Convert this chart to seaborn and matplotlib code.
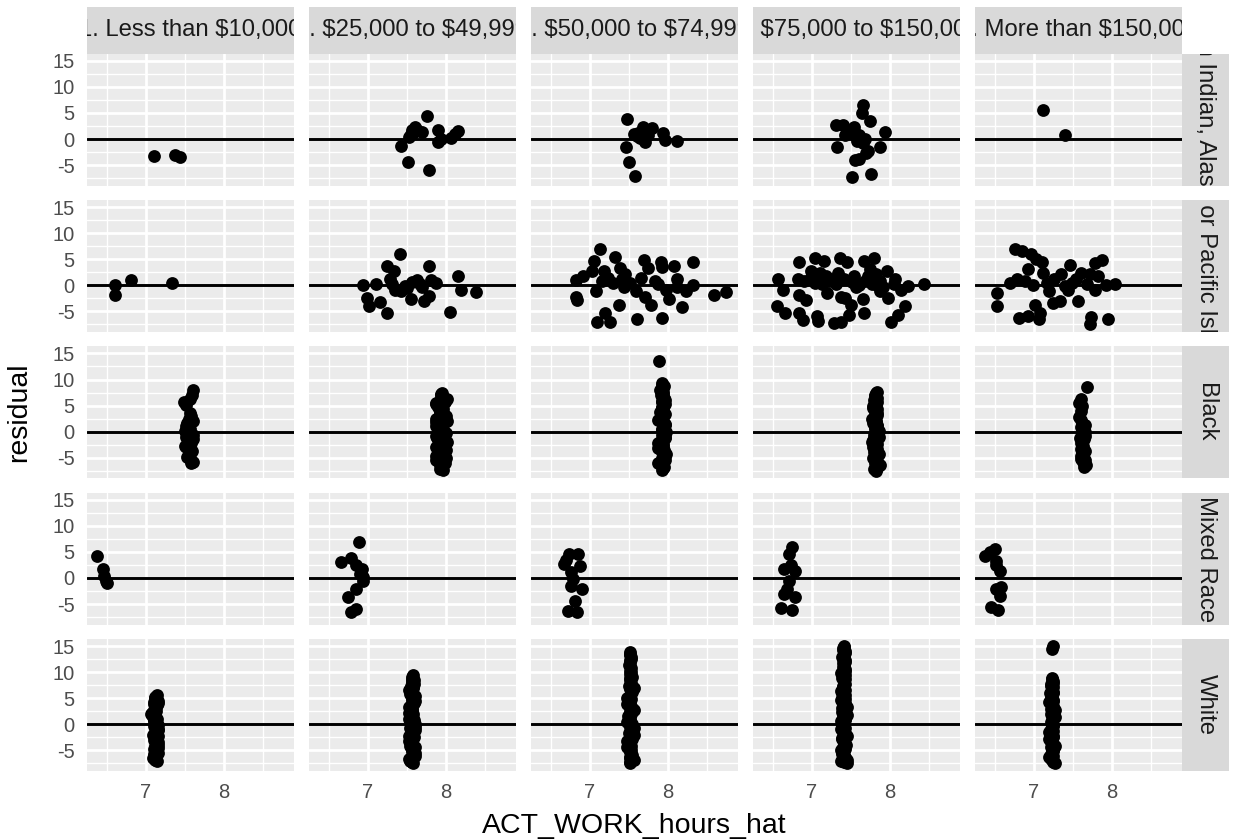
import matplotlib
matplotlib.use("Agg")
import matplotlib.pyplot as plt
import pandas as pd
import seaborn as sns

# ---------------- facet levels ----------------
races = ["American Indian, Alaska Native", "Asian or Pacific Islander",
         "Black", "Mixed Race", "White"]
incomes = ["1. Less than $10,000", "3. $25,000 to $49,999",
           "4. $50,000 to $74,999", "5. $75,000 to $150,000",
           "6. More than $150,000"]

x_ticks = [7, 8]
y_ticks = [-5, 0, 5, 10, 15]

# ---------------- data ----------------
# American Indian, Alaska Native
ai_1_x = [7.11, 7.37, 7.44]
ai_1_r = [-3.2, -3.1, -3.5]
ai_3_x = [7.42, 7.51, 7.53, 7.55, 7.56, 7.60, 7.63, 7.69, 7.76, 7.78, 7.90, 7.90, 7.94, 8.07, 8.12, 8.16, 7.58]
ai_3_r = [-1.4, -4.5, 0.4, 0.9, 1.8, 2.4, 1.7, 1.3, 4.5, -5.9, 1.8, -0.5, 0.1, 0.2, 1.0, 1.5, 1.2]
ai_4_x = [7.48, 7.46, 7.50, 7.58, 7.56, 7.62, 7.68, 7.71, 7.74, 7.80, 7.94, 7.96, 8.12, 7.64, 7.60]
ai_4_r = [3.9, -1.6, -4.4, -7.1, 0.9, 1.1, 2.3, -0.5, 0.8, 2.2, 1.2, -0.2, -0.3, 0.2, 0.5]
ai_5_x = [7.31, 7.40, 7.32, 7.43, 7.54, 7.55, 7.51, 7.65, 7.64, 7.74, 7.60, 7.68, 7.70, 7.76, 7.87, 7.94, 7.48, 7.58, 7.65, 7.61, 7.72]
ai_5_r = [2.7, 2.6, -1.6, 0.8, 2.4, -4.1, -7.2, 6.6, 5.0, 3.4, 0.8, 0.1, -2.7, -6.7, -1.5, 1.4, 1.1, -0.4, -0.8, -3.8, -2.2]
ai_6_x = [7.12, 7.40]
ai_6_r = [5.5, 0.8]

# Asian or Pacific Islander
as_1_x = [6.60, 6.60, 6.81, 7.34]
as_1_r = [0.0, -1.9, 1.0, 0.5]
as_3_x = [6.94, 6.99, 7.01, 7.11, 7.15, 7.24, 7.25, 7.28, 7.33, 7.35, 7.41, 7.42, 7.47, 7.55, 7.56,
          7.63, 7.67, 7.72, 7.78, 7.79, 7.81, 7.88, 8.05, 8.16, 8.19, 8.39, 7.31, 7.50, 7.70]
as_3_r = [0.0, -2.4, -4.0, 0.2, -3.2, 3.8, -5.3, 1.3, 2.8, -0.8, 6.0, -1.0, -0.1, -2.7, 0.7,
          1.0, 0.2, -3.0, 3.7, -2.1, 1.0, 0.5, -5.1, 1.8, -0.8, -1.2, 0.3, -0.6, -0.4]
as_4_x = [6.82, 6.82, 6.83, 6.91, 7.05, 7.03, 7.13, 7.08, 7.09, 7.20, 7.26, 7.18, 7.16, 7.32, 7.37,
          7.39, 7.41, 7.44, 7.23, 7.30, 7.45, 7.52, 7.59, 7.61, 7.70, 7.75, 7.71, 7.78, 7.84, 7.88,
          7.91, 7.92, 7.92, 8.01, 8.08, 8.12, 8.12, 8.18, 8.23, 8.32, 8.32, 8.59, 8.75, 7.65, 7.98]
as_4_r = [1.0, -2.2, -2.8, 1.8, 4.7, 2.8, 6.9, -1.1, -7.0, -5.3, -7.0, 2.8, 0.8, 5.4, -3.7,
          3.4, 1.2, -0.4, 1.5, 0.5, 2.1, 0.5, -1.1, -6.5, 4.9, 3.4, -2.2, -3.7, 0.8, 0.2,
          4.4, -6.3, 3.5, -2.7, 3.7, 1.2, -0.4, -4.2, -1.0, 4.4, 0.0, -1.9, -1.2, 1.5, -0.8]
as_5_x = [6.56, 6.63, 6.55, 6.66, 6.83, 6.82, 6.84, 6.92, 6.83, 6.88, 6.90, 7.04, 7.06, 7.08, 7.11,
          7.15, 7.18, 7.20, 6.99, 6.97, 7.27, 7.29, 7.36, 7.37, 7.38, 7.45, 7.47, 7.50, 7.43, 7.34,
          7.54, 7.57, 7.65, 7.67, 7.67, 7.75, 7.80, 7.82, 7.87, 7.87, 7.96, 7.98, 8.01, 8.07, 8.10,
          8.14, 8.19, 8.23, 8.44, 7.68, 7.31, 7.13, 7.41, 7.77, 7.91, 7.72, 8.05, 7.04, 7.22, 7.52,
          7.60, 7.84]
as_5_r = [1.3, -0.9, -4.0, -5.3, 4.4, 1.3, -1.9, -2.9, -5.4, -6.7, 0.8, 5.3, -5.9, -6.9, 2.4,
          4.7, 1.8, -1.4, 2.8, 1.2, 1.2, -7.2, 5.3, -2.2, -7.0, 4.4, -5.6, -3.7, -2.4, 2.4,
          1.8, -0.4, -2.7, 4.6, -5.3, 3.1, 5.3, 2.1, 0.8, -1.1, 2.8, -2.4, -7.1, 1.2, -5.6,
          -0.8, -4.0, -0.1, 0.2, 0.8, 0.2, 0.2, 1.2, 0.2, -0.4, 1.8, 0.2, 0.5, 0.8, 0.7,
          0.1, 0.0]
as_6_x = [6.53, 6.53, 6.69, 6.76, 6.79, 6.85, 6.81, 6.93, 6.96, 6.92, 6.99, 7.01, 7.03, 7.10, 7.08,
          7.06, 7.12, 7.19, 7.24, 7.33, 7.26, 7.35, 7.46, 7.44, 7.56, 7.61, 7.68, 7.72, 7.73, 7.72,
          7.79, 7.82, 7.78, 7.87, 7.95, 7.93, 8.04, 7.49, 7.40, 7.17, 6.89, 7.54]
as_6_r = [-1.4, -4.0, 0.5, 6.9, 1.3, 6.6, -6.2, -5.9, 6.0, 3.1, 0.0, -3.7, 5.0, 4.4, -5.3,
          -6.5, 2.4, -1.1, -3.3, -3.0, 1.2, 2.1, 3.9, -0.8, -3.0, 2.4, 0.2, 2.1, -6.1, -7.4,
          -0.9, 1.8, 4.2, 4.8, -6.4, 0.0, 0.2, 0.5, -0.1, 0.5, 0.8, 1.2]

# Black
bl_1_x = [7.61, 7.59, 7.57, 7.49, 7.52, 7.56, 7.58, 7.55, 7.53, 7.51, 7.57, 7.54, 7.60, 7.52,
          7.56, 7.58, 7.50, 7.55, 7.59, 7.57, 7.53, 7.56, 7.60, 7.58, 7.50, 7.60, 7.61, 7.52]
bl_1_r = [8.0, 7.1, 6.2, 5.6, 5.1, 3.6, 3.0, 2.4, 1.7, 1.0, 0.5, -0.2, -0.6, -1.1,
          -1.7, -2.2, -2.8, -3.3, -3.7, -4.3, -4.8, -5.3, -5.8, -6.1, 0.1, 2.0, -1.4, -3.0]
bl_3_x = [7.95, 7.94, 7.96, 7.92, 7.88, 7.94, 7.96, 7.93, 7.97, 7.95, 7.92, 7.96, 7.94, 7.97,
          7.93, 7.95, 7.98, 7.94, 7.96, 7.93, 7.97, 7.95, 7.92, 7.96, 7.94, 7.97, 7.93, 7.95,
          7.96, 7.87, 7.88, 7.87, 7.99, 8.00, 8.00, 7.99, 7.99, 7.90, 7.89, 8.00,
          7.94, 7.95, 7.93, 7.95, 7.94, 7.92, 7.95, 7.93, 7.94, 7.95, 7.93, 7.94, 7.95, 7.93,
          7.94, 7.95, 7.93, 7.87, 7.87, 7.87, 7.88, 7.87, 8.01, 8.01, 8.01, 8.00]
bl_3_r = [7.5, 7.0, 6.4, 5.9, 5.5, 5.0, 4.4, 3.9, 3.3, 2.8, 2.2, 1.7, 1.2, 0.6,
          0.1, -0.5, -1.0, -1.6, -2.1, -2.7, -3.2, -3.8, -4.3, -4.7, -5.3, -5.8, -6.4, -6.9,
          -7.3, 1.9, 1.0, -4.6, 5.6, 3.0, -0.2, -2.4, -6.1, 4.7, -1.3, -3.5,
          7.2, 6.7, 6.1, 5.2, 4.1, 3.6, 2.5, 1.4, 0.3, -0.8, -1.9, -3.0, -4.1, -5.0,
          -5.6, -6.7, -7.1, 5.3, 2.4, -0.8, -3.0, -5.5, 6.2, 2.0, -2.0, -5.0]
bl_4_x = [7.89, 7.93, 7.95, 7.92, 7.94, 7.91, 7.95, 7.93, 7.96, 7.92, 7.94, 7.90, 7.95, 7.93,
          7.91, 7.96, 7.94, 7.92, 7.95, 7.93, 7.96, 7.91, 7.94, 7.92, 7.95, 7.93, 7.96, 7.92,
          7.94, 7.91, 7.95, 7.93, 7.88, 7.98, 7.88, 7.98, 7.88, 7.97, 7.97, 7.88, 7.97, 7.97,
          7.96, 7.90,
          7.93, 7.94, 7.93, 7.94, 7.92, 7.94, 7.93, 7.94, 7.92, 7.94, 7.93, 7.94, 7.92, 7.94,
          7.93, 7.94, 7.92, 7.94, 7.93, 7.94]
bl_4_r = [13.5, 9.3, 8.8, 8.2, 7.6, 7.0, 6.5, 5.9, 5.3, 4.8, 4.2, 3.7, 3.1, 2.6,
          2.0, 1.5, 0.9, 0.4, -0.2, -0.7, -1.3, -1.8, -2.4, -2.9, -3.5, -4.0, -4.6, -5.1,
          -5.7, -6.2, -6.8, -7.3, 2.3, 0.0, -2.1, -4.3, -6.0, 1.2, -1.0, -3.2, -5.4, 3.4,
          6.1, 8.0,
          9.0, 8.5, 7.9, 7.3, 6.8, 6.2, 5.6, 5.0, 4.5, 3.9, 2.9, 1.8, 0.6, -0.5,
          -1.6, -2.7, -3.7, -4.8, -5.9, -7.0]
bl_5_x = [7.83, 7.81, 7.84, 7.80, 7.82, 7.79, 7.83, 7.81, 7.84, 7.80, 7.82, 7.79, 7.83, 7.81,
          7.84, 7.80, 7.82, 7.79, 7.83, 7.81, 7.84, 7.80, 7.82, 7.79, 7.83, 7.81, 7.84, 7.80,
          7.82, 7.86, 7.77, 7.86, 7.87, 7.77, 7.78, 7.86, 7.78,
          7.82, 7.81, 7.82, 7.83, 7.81, 7.82, 7.83, 7.81, 7.82, 7.83, 7.81, 7.82, 7.83, 7.81,
          7.82, 7.83, 7.81, 7.82, 7.83]
bl_5_r = [7.6, 7.1, 6.5, 6.0, 5.4, 4.9, 4.3, 3.8, 3.2, 2.7, 2.1, 1.6, 1.0, 0.5,
          -0.1, -0.6, -1.2, -1.7, -2.3, -2.8, -3.4, -3.9, -4.5, -5.0, -5.6, -6.1, -6.7, -7.1,
          -7.5, 0.2, -2.0, -4.2, -6.4, 2.4, 4.6, -1.0, -3.0,
          7.4, 6.8, 6.2, 5.7, 5.1, 4.0, 3.5, 2.9, 1.9, 1.3, 0.8, -0.3, -1.4, -2.5,
          -3.6, -4.7, -5.3, -5.9, -6.9]
bl_6_x = [7.68, 7.60, 7.58, 7.62, 7.60, 7.58, 7.61, 7.63, 7.60, 7.64, 7.62, 7.66, 7.64, 7.61,
          7.63, 7.60, 7.62, 7.61, 7.60, 7.63, 7.67, 7.64, 7.66, 7.59, 7.65, 7.66, 7.66]
bl_6_r = [8.5, 6.3, 5.5, 4.9, 3.9, 2.8, 2.2, 1.5, 0.9, 0.3, -0.3, -0.9, -1.5, -2.1,
          -2.8, -3.4, -4.0, -4.7, -5.3, -5.9, -6.4, -6.8, 1.2, -1.2, -3.7, -5.5, 0.0]

# Mixed Race
mx_1_x = [6.37, 6.45, 6.46, 6.49, 6.50]
mx_1_r = [4.3, 1.7, 0.4, -0.5, -1.0]
mx_3_x = [6.88, 6.65, 6.79, 6.85, 6.93, 6.90, 6.94, 6.85, 6.74, 6.85, 6.78, 6.94]
mx_3_r = [6.9, 3.0, 3.8, 2.4, 1.7, 0.8, -0.5, -2.1, -3.7, -5.9, -6.6, 0.1]
mx_4_x = [6.73, 6.85, 6.67, 6.87, 6.76, 6.78, 6.76, 6.90, 6.81, 6.72, 6.84, 6.70]
mx_4_r = [4.6, 4.5, 2.7, 2.2, 1.1, -0.2, -1.5, -2.1, -4.5, -6.4, -6.6, 3.5]
mx_5_x = [6.75, 6.71, 6.64, 6.73, 6.78, 6.71, 6.64, 6.78, 6.60, 6.75, 6.68]
mx_5_r = [5.9, 4.6, 1.7, 2.4, 1.4, -0.5, -3.1, -3.7, -5.7, -6.2, -2.1]
mx_6_x = [6.37, 6.50, 6.44, 6.52, 6.57, 6.52, 6.52, 6.57, 6.45, 6.54, 6.58]
mx_6_r = [4.3, 5.5, 4.9, 3.3, 1.4, 2.4, -2.1, -3.4, -5.5, -6.2, -1.7]

# White
wh_1_x = [7.14, 7.12, 7.15, 7.11, 7.13, 7.10, 7.08, 7.12, 7.14, 7.11, 7.13, 7.10, 7.15, 7.12,
          7.09, 7.14, 7.11, 7.13, 7.12, 7.10, 7.14, 7.11, 7.13, 7.12, 7.14, 7.07, 7.09, 7.16,
          7.16, 7.15, 7.16, 7.15, 7.10, 7.15, 7.10, 7.16,
          7.12, 7.13, 7.11, 7.14, 7.12, 7.13, 7.11, 7.14, 7.12, 7.13, 7.15, 7.09]
wh_1_r = [5.6, 5.1, 4.5, 3.9, 3.3, 2.8, 2.2, 1.7, 1.1, 0.6, 0.1, -0.4, -0.9, -1.5,
          -2.0, -2.6, -3.1, -3.6, -4.2, -4.7, -5.3, -5.8, -6.3, -6.8, -7.1, 2.0, 1.4, -0.2,
          -1.1, -2.3, -3.4, -5.6, -6.0, 4.1, 0.9, -4.0,
          5.3, 4.8, 4.2, 3.6, 3.0, 2.5, 1.9, -0.6, -1.8, -2.8, -4.5, -6.5]
wh_3_x = [7.58, 7.56, 7.59, 7.57, 7.55, 7.58, 7.56, 7.54, 7.58, 7.56, 7.59, 7.55, 7.57, 7.54,
          7.58, 7.56, 7.59, 7.55, 7.57, 7.54, 7.58, 7.56, 7.59, 7.55, 7.57, 7.54, 7.58, 7.56,
          7.59, 7.55, 7.57, 7.56, 7.58, 7.53, 7.60, 7.53, 7.60, 7.53, 7.60, 7.53, 7.60, 7.53,
          7.60, 7.53, 7.60, 7.54, 7.53, 7.60, 7.59, 7.60,
          7.57, 7.56, 7.58, 7.57, 7.56, 7.58, 7.57, 7.56, 7.58, 7.57, 7.56, 7.58, 7.57, 7.56,
          7.58, 7.57]
wh_3_r = [9.4, 9.0, 8.5, 8.0, 7.4, 6.9, 6.3, 5.8, 5.2, 4.7, 4.1, 3.6, 3.0, 2.5,
          1.9, 1.4, 0.8, 0.3, -0.3, -0.8, -1.4, -1.9, -2.5, -3.0, -3.6, -4.1, -4.7, -5.2,
          -5.8, -6.3, -6.8, -7.2, -7.5, 6.6, 4.4, 2.2, 0.0, -2.2, -4.4, -6.6, 5.5, 1.1,
          -1.1, -3.3, -5.5, -7.0, 3.3, -0.6, 7.7, -6.0,
          8.7, 8.2, 7.1, 6.1, 5.0, 3.9, 2.8, 1.6, 0.5, -0.5, -1.6, -2.7, -3.8, -4.9,
          -6.0, -7.3]
wh_4_x = [7.52, 7.51, 7.53, 7.52, 7.50, 7.53, 7.51, 7.52, 7.54, 7.51, 7.53, 7.50, 7.52, 7.54,
          7.51, 7.53, 7.50, 7.52, 7.54, 7.51, 7.53, 7.50, 7.52, 7.54, 7.51, 7.53, 7.50, 7.52,
          7.54, 7.51, 7.53, 7.50, 7.52, 7.54, 7.51, 7.53, 7.52, 7.48, 7.56, 7.48, 7.56, 7.48,
          7.56, 7.48, 7.56, 7.48, 7.56, 7.49,
          7.52, 7.53, 7.51, 7.52, 7.53, 7.51, 7.52, 7.53, 7.51, 7.52, 7.53, 7.51, 7.52, 7.53,
          7.51, 7.52, 7.53, 7.51, 7.52]
wh_4_r = [13.8, 13.2, 12.6, 12.0, 11.4, 10.8, 10.3, 9.7, 9.1, 8.5, 7.9, 7.3, 6.7, 6.1,
          5.5, 4.9, 4.3, 3.7, 3.1, 2.5, 1.9, 1.3, 0.7, 0.1, -0.5, -1.1, -1.7, -2.3,
          -2.9, -3.5, -4.1, -4.7, -5.3, -5.9, -6.5, -7.0, -7.5, 5.0, 2.8, 0.4, -2.0, -4.4,
          -6.8, 3.9, -0.8, -3.2, 7.0, 1.6,
          13.5, 12.9, 12.3, 11.1, 10.0, 8.8, 7.6, 6.4, 5.2, 4.0, 2.2, 1.0, -0.2, -1.4,
          -2.6, -3.8, -5.0, -6.2, -7.3]
wh_5_x = [7.41, 7.40, 7.42, 7.41, 7.39, 7.42, 7.40, 7.41, 7.43, 7.40, 7.42, 7.39, 7.41, 7.43,
          7.40, 7.42, 7.39, 7.41, 7.43, 7.40, 7.42, 7.39, 7.41, 7.43, 7.40, 7.42, 7.39, 7.41,
          7.43, 7.40, 7.42, 7.39, 7.41, 7.43, 7.40, 7.42, 7.39, 7.41, 7.40, 7.37, 7.45, 7.37,
          7.45, 7.37, 7.45, 7.37, 7.45, 7.37, 7.45, 7.38, 7.44, 7.38,
          7.41, 7.40, 7.42, 7.41, 7.40, 7.42, 7.41, 7.40, 7.42, 7.41, 7.40, 7.42, 7.41, 7.40,
          7.43, 7.39, 7.43, 7.39, 7.43, 7.39, 7.43, 7.39, 7.43, 7.39, 7.43, 7.41]
wh_5_r = [15.1, 14.6, 14.0, 13.4, 12.9, 12.3, 11.7, 11.2, 10.6, 10.0, 9.4, 8.9, 8.3, 7.7,
          7.1, 6.6, 6.0, 5.4, 4.9, 4.3, 3.7, 3.1, 2.6, 2.0, 1.4, 0.9, 0.3, -0.3,
          -0.8, -1.4, -2.0, -2.6, -3.1, -3.7, -4.3, -4.8, -5.4, -6.0, -6.5, -7.1, -7.5, 6.3,
          3.4, 0.6, -2.2, -5.0, -6.8, 4.6, 1.8, -1.0, -3.9, 9.8,
          14.8, 14.3, 13.7, 13.1, 12.6, 12.0, 11.4, 10.9, 10.3, 9.7, 9.1, 8.6, 8.0, 7.4,
          5.7, 5.1, 4.0, 2.3, 1.1, 0.0, -1.7, -2.9, -4.0, -5.7, -6.2, -7.3]
wh_6_x = [7.24, 7.23, 7.23, 7.25, 7.22, 7.24, 7.23, 7.25, 7.22, 7.24, 7.23, 7.25, 7.22, 7.24,
          7.23, 7.25, 7.22, 7.24, 7.23, 7.25, 7.22, 7.24, 7.23, 7.25, 7.22, 7.24, 7.23, 7.25,
          7.22, 7.24, 7.20, 7.27, 7.20, 7.27, 7.20, 7.27, 7.20, 7.27, 7.21,
          7.23, 7.24, 7.22, 7.23, 7.24, 7.22, 7.23, 7.24, 7.22, 7.23, 7.24, 7.22, 7.23, 7.24,
          7.22, 7.23, 7.24, 7.22, 7.23, 7.24, 7.22, 7.23, 7.24]
wh_6_r = [15.0, 14.4, 8.9, 8.3, 7.7, 7.1, 6.5, 5.9, 5.3, 4.7, 4.1, 3.5, 2.9, 2.3,
          1.7, 1.1, 0.5, -0.1, -0.7, -1.3, -1.9, -2.5, -3.1, -3.7, -4.3, -4.9, -5.5, -6.1,
          -6.7, -7.2, 4.2, 1.4, -1.4, -4.1, -6.3, 2.7, -2.9, -7.5, 6.0,
          8.6, 8.0, 7.4, 6.8, 6.2, 5.6, 5.0, 4.4, 3.8, 3.2, 2.6, 2.0, 0.8, -0.4,
          -1.0, -1.6, -2.2, -3.4, -4.6, -5.2, -5.8, -6.4, -7.0]

cells = [
    (races[0], incomes[0], ai_1_x, ai_1_r), (races[0], incomes[1], ai_3_x, ai_3_r),
    (races[0], incomes[2], ai_4_x, ai_4_r), (races[0], incomes[3], ai_5_x, ai_5_r),
    (races[0], incomes[4], ai_6_x, ai_6_r),
    (races[1], incomes[0], as_1_x, as_1_r), (races[1], incomes[1], as_3_x, as_3_r),
    (races[1], incomes[2], as_4_x, as_4_r), (races[1], incomes[3], as_5_x, as_5_r),
    (races[1], incomes[4], as_6_x, as_6_r),
    (races[2], incomes[0], bl_1_x, bl_1_r), (races[2], incomes[1], bl_3_x, bl_3_r),
    (races[2], incomes[2], bl_4_x, bl_4_r), (races[2], incomes[3], bl_5_x, bl_5_r),
    (races[2], incomes[4], bl_6_x, bl_6_r),
    (races[3], incomes[0], mx_1_x, mx_1_r), (races[3], incomes[1], mx_3_x, mx_3_r),
    (races[3], incomes[2], mx_4_x, mx_4_r), (races[3], incomes[3], mx_5_x, mx_5_r),
    (races[3], incomes[4], mx_6_x, mx_6_r),
    (races[4], incomes[0], wh_1_x, wh_1_r), (races[4], incomes[1], wh_3_x, wh_3_r),
    (races[4], incomes[2], wh_4_x, wh_4_r), (races[4], incomes[3], wh_5_x, wh_5_r),
    (races[4], incomes[4], wh_6_x, wh_6_r),
]
rows = []
for race, inc, xs, rs in cells:
    for xv, rv in zip(xs, rs):
        rows.append({"race": race, "income": inc, "ACT_WORK_hours_hat": xv, "residual": rv})
df = pd.DataFrame(rows)

# ---------------- styling ----------------
sns.set_theme(style="darkgrid")
plt.rcParams["font.family"] = ["Liberation Sans", "DejaVu Sans"]
plt.rcParams["axes.unicode_minus"] = True

W, H = 1233, 840
fig = plt.figure(figsize=(W / 100, H / 100), dpi=100)
fig.patch.set_facecolor("white")

LEFT = 87.0
PW = 207.0
HSTEP = 222.0
TOP = 53.8
PH = 132.0
VSTEP = 146.3
STRIP_TOP = 7.0
RSTRIP_X = LEFT + 4 * HSTEP + PW
RSTRIP_W = 47.0

def add_ax(x0, y0, w, h):
    return fig.add_axes([x0 / W, 1 - (y0 + h) / H, w / W, h / H])

TICK_FS = 14.5
STRIP_FS = 17.2
TITLE_FS = 20.5

for i, race in enumerate(races):
    for j, inc in enumerate(incomes):
        x0 = LEFT + j * HSTEP
        y0 = TOP + i * VSTEP
        ax = add_ax(x0, y0, PW, PH)
        ax.set_facecolor("#EBEBEB")
        sub = df[(df["race"] == race) & (df["income"] == inc)]
        ax.axhline(0, color="black", lw=2.1, zorder=2)
        sns.scatterplot(data=sub, x="ACT_WORK_hours_hat", y="residual", ax=ax,
                        color="black", s=85, linewidth=0, legend=False, zorder=3)
        ax.set_xlim(6.245, 8.90)
        ax.set_ylim(-8.97, 16.35)
        ax.set_xticks(x_ticks)
        ax.set_yticks(y_ticks)
        ax.set_xticks([6.5, 7.5, 8.5], minor=True)
        ax.set_yticks([-7.5, -2.5, 2.5, 7.5, 12.5], minor=True)
        ax.grid(which="major", color="white", lw=2.0)
        ax.grid(which="minor", color="white", lw=1.0)
        ax.set_axisbelow(True)
        for sp in ax.spines.values():
            sp.set_visible(False)
        ax.set_xlabel("")
        ax.set_ylabel("")
        ax.tick_params(which="minor", length=0)
        ax.tick_params(which="major", length=4.3, width=1.6, color="#333333",
                       labelcolor="#4D4D4D", labelsize=TICK_FS, pad=4.5)
        if j != 0:
            ax.tick_params(axis="y", which="major", length=0, labelleft=False)
        else:
            ax.set_yticklabels([str(v) for v in y_ticks])
        if i != len(races) - 1:
            ax.tick_params(axis="x", which="major", length=0, labelbottom=False)
        else:
            ax.set_xticklabels([str(v) for v in x_ticks])

        # top strips (text clipped to the strip box, as in the reference)
        if i == 0:
            sax = add_ax(x0, STRIP_TOP, PW, TOP - STRIP_TOP)
            sax.set_facecolor("#D9D9D9")
            sax.set_xticks([]); sax.set_yticks([])
            for sp in sax.spines.values():
                sp.set_visible(False)
            sax.grid(False)
            sax.text(0.5, 0.5, inc.replace("$", r"\$"), transform=sax.transAxes,
                     ha="center", va="center", fontsize=STRIP_FS, color="#1A1A1A",
                     clip_on=True)
        # right strips
        if j == len(incomes) - 1:
            rax = add_ax(RSTRIP_X, y0, RSTRIP_W, PH)
            rax.set_facecolor("#D9D9D9")
            rax.set_xticks([]); rax.set_yticks([])
            for sp in rax.spines.values():
                sp.set_visible(False)
            rax.grid(False)
            rax.text(0.5, 0.5, race, transform=rax.transAxes, ha="center", va="center",
                     rotation=-90, fontsize=STRIP_FS, color="#1A1A1A", clip_on=True)

panels_right = LEFT + 4 * HSTEP + PW
fig.text((LEFT + panels_right) / 2 / W, 1 - 833 / H, "ACT_WORK_hours_hat",
         ha="center", va="baseline", fontsize=TITLE_FS, color="black")
fig.text(19 / W, 1 - (TOP + (4 * VSTEP + PH) / 2) / H, "residual", ha="center",
         va="center", rotation=90, fontsize=TITLE_FS, color="black")

fig.savefig("out.png", dpi=100, facecolor="white")
